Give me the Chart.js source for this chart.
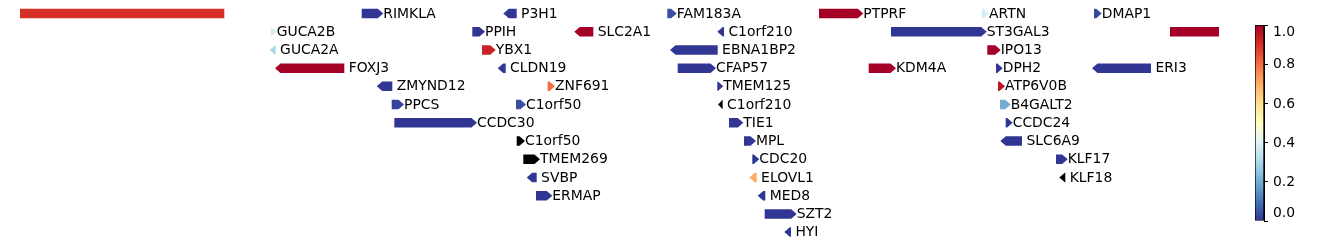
<!DOCTYPE html>
<html>
<head>
<meta charset="utf-8">
<script src="https://cdn.jsdelivr.net/npm/chart.js@4/dist/chart.umd.min.js"></script>
<style>
  html, body { margin: 0; padding: 0; background: #fff; overflow: hidden; }
  #track { position: absolute; left: 0; top: 0; }
  #cbar { position: absolute; left: 1240px; top: 0; }
</style>
</head>
<body>
<canvas id="track" width="1338" height="246"></canvas>
<canvas id="cbar" width="98" height="246"></canvas>
<script>
// Gene track: one entry per feature.
// Empty name = unlabeled region (drawn as a plain block, no strand).
const geneNames = [
  '', 'RIMKLA', 'P3H1', 'FAM183A', 'PTPRF', 'ARTN', 'DMAP1',
  'GUCA2B', 'PPIH', 'SLC2A1', 'C1orf210', 'ST3GAL3', '',
  'GUCA2A', 'YBX1', 'EBNA1BP2', 'IPO13',
  'FOXJ3', 'CLDN19', 'CFAP57', 'KDM4A', 'DPH2', 'ERI3',
  'ZMYND12', 'ZNF691', 'TMEM125', 'ATP6V0B',
  'PPCS', 'C1orf50', 'C1orf210', 'B4GALT2',
  'CCDC30', 'TIE1', 'CCDC24',
  'C1orf50', 'MPL', 'SLC6A9',
  'TMEM269', 'CDC20', 'KLF17',
  'SVBP', 'ELOVL1', 'KLF18',
  'ERMAP', 'MED8',
  'SZT2',
  'HYI',
];
const geneStart = [
  20, 361.7, 503.3, 667.3, 819, 982, 1094,
  270.7, 472.3, 574.3, 717.3, 891, 1170,
  269.7, 482, 670, 987.3,
  275, 497.7, 677.7, 868.7, 996, 1092,
  376.7, 547.7, 717.3, 998,
  391.7, 516, 718, 1000,
  394.3, 729, 1005.7,
  516.7, 744, 1000.3,
  523.3, 752.3, 1056,
  526.7, 749.3, 1059.3,
  536, 757.7,
  764.7,
  784.3,
];
const geneEnd = [
  224.3, 383.3, 516.7, 676.7, 863.3, 989, 1101.7,
  276.7, 485, 593.3, 724, 986.7, 1219,
  275.7, 495.7, 717.7, 1000.7,
  344.3, 505.7, 716, 896, 1002.7, 1151,
  392.3, 555, 723.3, 1005,
  404, 526, 722.7, 1010.7,
  477, 743.3, 1012.7,
  525, 756, 1022,
  540, 759.3, 1067.7,
  536.7, 756.7, 1065.3,
  552.3, 765.3,
  796.7,
  791,
];
const geneStrand = [
  null, '+', '-', '+', '+', '+', '+',
  '+', '+', '-', '-', '+', null,
  '-', '+', '-', '+',
  '-', '-', '+', '+', '+', '-',
  '-', '+', '+', '+',
  '+', '+', '-', '+',
  '+', '+', '+',
  '+', '+', '-',
  '+', '+', '+',
  '-', '-', '-',
  '+', '-',
  '+',
  '-',
];
const geneRow = [
  0, 0, 0, 0, 0, 0, 0,
  1, 1, 1, 1, 1, 1,
  2, 2, 2, 2,
  3, 3, 3, 3, 3, 3,
  4, 4, 4, 4,
  5, 5, 5, 5,
  6, 6, 6,
  7, 7, 7,
  8, 8, 8,
  9, 9, 9,
  10, 10,
  11,
  12,
];
// colour value (0..1); null = no value, drawn black
const geneScore = [
  0.9, 0.0, 0.0, 0.04, 1.0, 0.38, 0.03,
  0.38, 0.0, 1.0, 0.0, 0.0, 1.0,
  0.3, 0.93, 0.0, 1.0,
  1.0, 0.0, 0.0, 1.0, 0.0, 0.0,
  0.0, 0.8, 0.0, 0.95,
  0.02, 0.04, null, 0.2,
  0.0, 0.0, 0.0,
  null, 0.0, 0.0,
  null, 0.0, 0.0,
  0.0, 0.7, null,
  0.0, 0.0,
  0.0,
  0.0,
];
const colorbarTicks = [0, 0.2, 0.4, 0.6, 0.8, 1.0];

// RdYlBu reversed: index 0 = low (blue), 10 = high (red)
const RDYLBU_R = [
  [49, 54, 149], [69, 117, 180], [116, 173, 209], [171, 217, 233], [224, 243, 248],
  [255, 255, 191], [254, 224, 144], [253, 174, 97], [244, 109, 67], [215, 48, 39], [165, 0, 38],
];

function cmap(v) {
  if (v === null || v === undefined) return '#000000';
  const t = Math.max(0, Math.min(1, v)) * 10;
  const i = Math.min(9, Math.floor(t));
  const f = t - i;
  const a = RDYLBU_R[i];
  const b = RDYLBU_R[i + 1];
  const c = a.map((x, k) => Math.round(x + (b[k] - x) * f));
  return `rgb(${c[0]},${c[1]},${c[2]})`;
}

const FONT = '13.9px "DejaVu Sans", sans-serif';
const HEAD_PX = 5.5;

// Draws each floating bar as an arrow (pentagon) in its strand direction,
// plus the gene label to the right.
const arrowPlugin = {
  id: 'geneArrows',
  afterDatasetsDraw(chart) {
    const ctx = chart.ctx;
    const meta = chart.getDatasetMeta(0);
    ctx.save();
    ctx.font = FONT;
    ctx.textBaseline = 'middle';
    ctx.textAlign = 'left';
    meta.data.forEach((el, i) => {
      const left = Math.min(el.x, el.base);
      const right = Math.max(el.x, el.base);
      const top = el.y - el.height / 2;
      const bot = el.y + el.height / 2;
      const head = Math.min(HEAD_PX, right - left);
      ctx.beginPath();
      if (geneStrand[i] === '+') {
        ctx.moveTo(left, top);
        ctx.lineTo(right - head, top);
        ctx.lineTo(right, el.y);
        ctx.lineTo(right - head, bot);
        ctx.lineTo(left, bot);
      } else if (geneStrand[i] === '-') {
        ctx.moveTo(right, top);
        ctx.lineTo(left + head, top);
        ctx.lineTo(left, el.y);
        ctx.lineTo(left + head, bot);
        ctx.lineTo(right, bot);
      } else {
        ctx.rect(left, top, right - left, bot - top);
      }
      ctx.closePath();
      ctx.fillStyle = cmap(geneScore[i]);
      ctx.fill();

      if (geneNames[i]) {
        const label = geneStrand[i] === '-' ? ' ' + geneNames[i] : geneNames[i];
        ctx.fillStyle = '#000';
        ctx.fillText(label, right, el.y + 0.5);
      }
    });
    ctx.restore();
  },
};

new Chart(document.getElementById('track'), {
  type: 'bar',
  data: {
    datasets: [{
      data: geneNames.map((_, i) => ({ x: [geneStart[i], geneEnd[i]], y: geneRow[i] })),
      backgroundColor: 'rgba(0,0,0,0)',
      borderWidth: 0,
      barThickness: 9.5,
    }],
  },
  options: {
    indexAxis: 'y',
    responsive: false,
    animation: false,
    layout: { padding: { left: 20, right: 119, top: 4.4, bottom: 4.8 } },
    scales: {
      x: { type: 'linear', min: 20, max: 1219, display: false },
      y: { type: 'linear', min: -0.5, max: 12.5, reverse: true, offset: false, display: false },
    },
    plugins: { legend: { display: false }, tooltip: { enabled: false } },
  },
  plugins: [arrowPlugin],
});

// Colorbar: a single floating bar 0..1 filled with the colormap gradient.
const cbarLabels = {
  id: 'cbarLabels',
  afterDraw(chart) {
    const ctx = chart.ctx;
    const scale = chart.scales.y;
    const area = chart.chartArea;
    ctx.save();
    ctx.font = FONT;
    ctx.fillStyle = '#000';
    ctx.textBaseline = 'middle';
    ctx.textAlign = 'left';
    colorbarTicks.forEach((v) => {
      let y = scale.getPixelForValue(v);
      y = Math.max(area.top + 6.5, Math.min(area.bottom - 8, y));
      ctx.fillText(v.toFixed(1), area.right + 9, y + 0.5);
    });
    ctx.restore();
  },
};

new Chart(document.getElementById('cbar'), {
  type: 'bar',
  data: {
    labels: ['score'],
    datasets: [{
      data: [[0, 1]],
      backgroundColor(c) {
        const area = c.chart.chartArea;
        if (!area) return 'rgba(0,0,0,0)';
        const g = c.chart.ctx.createLinearGradient(0, area.bottom, 0, area.top);
        RDYLBU_R.forEach((_, k) => g.addColorStop(k / 10, cmap(k / 10)));
        return g;
      },
      borderColor: '#000',
      borderWidth: 1,
      borderSkipped: false,
      barPercentage: 1,
      categoryPercentage: 1,
    }],
  },
  options: {
    responsive: false,
    animation: false,
    layout: { padding: { left: 15, right: 34, top: 25, bottom: 25 } },
    scales: {
      x: { display: false },
      y: {
        position: 'right',
        min: 0,
        max: 1,
        afterBuildTicks(s) { s.ticks = colorbarTicks.map((v) => ({ value: v })); },
        afterFit(s) { s.width = 40; },
        grid: { drawOnChartArea: false, drawTicks: true, tickLength: 4, color: '#000' },
        border: { display: true, color: '#000' },
        ticks: { color: 'rgba(0,0,0,0)', font: { size: 13.9 } },
      },
    },
    plugins: { legend: { display: false }, tooltip: { enabled: false } },
  },
  plugins: [cbarLabels],
});
</script>
</body>
</html>
